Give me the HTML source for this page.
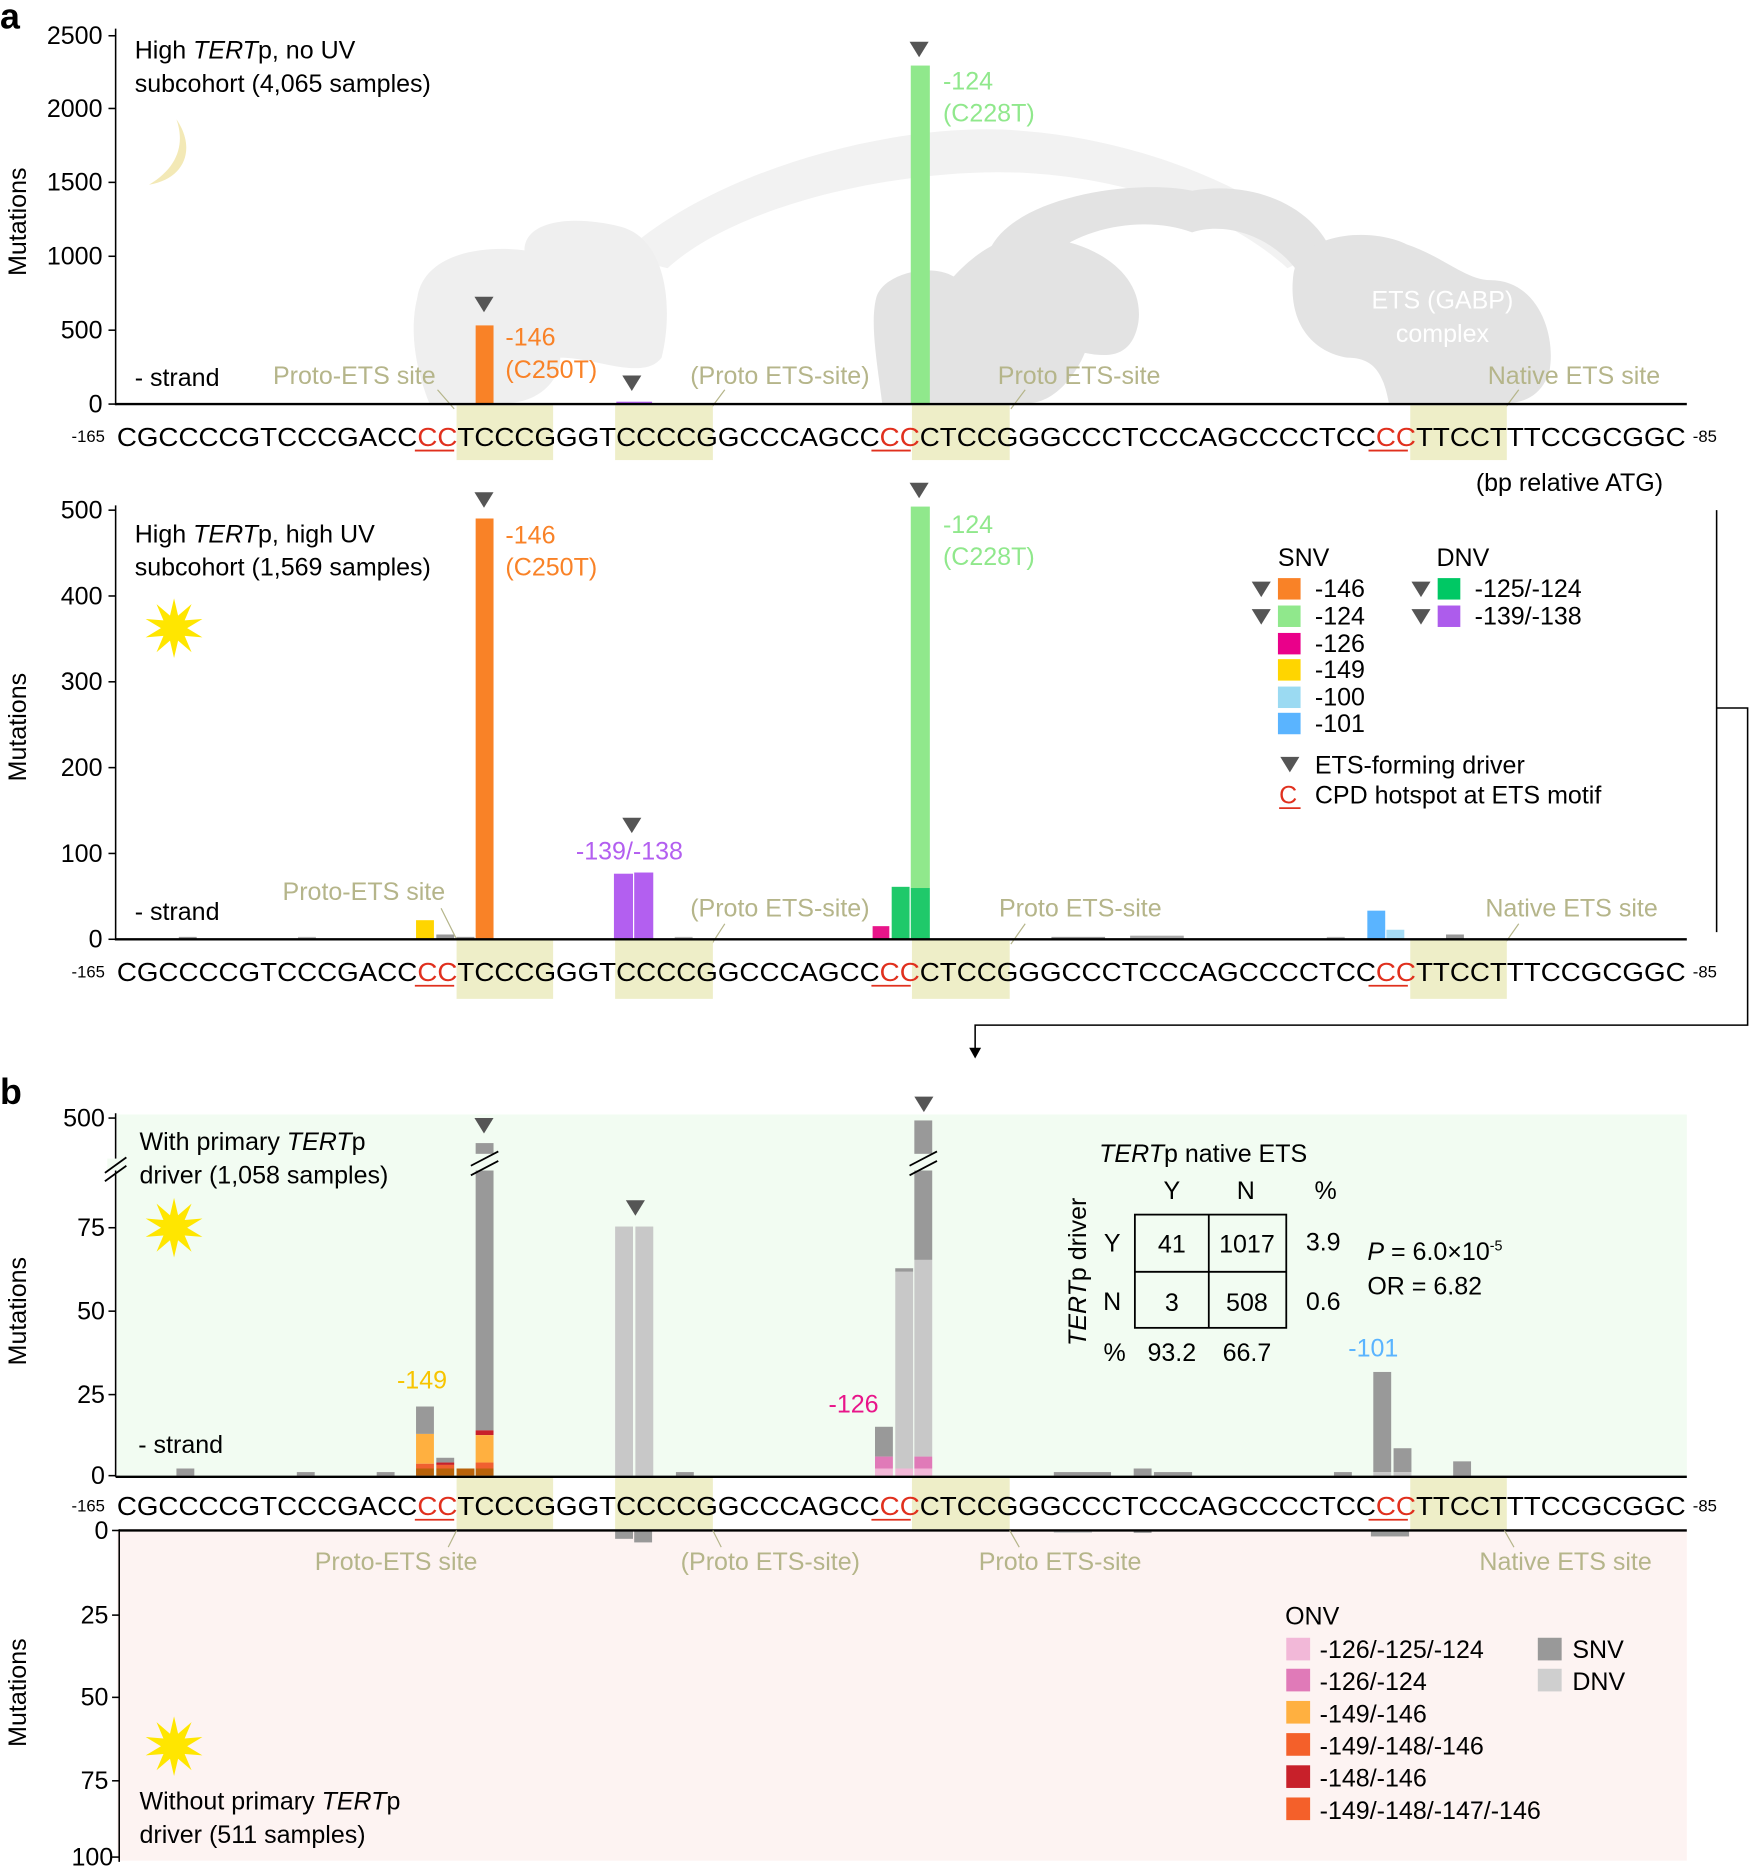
<!DOCTYPE html>
<html><head><meta charset="utf-8"><style>
html,body{margin:0;padding:0;background:#fff}
svg{display:block}
text{font-family:"Liberation Sans",Arial,sans-serif}
</style></head><body>
<svg width="1750" height="1869" viewBox="0 0 1468 1568" preserveAspectRatio="none" xmlns="http://www.w3.org/2000/svg">
<defs>
<polygon id="sun" fill="#ffe600" points="0,-25 3.4,-10.5 14.7,-20.2 8.9,-6.5 23.8,-7.7 11,0 23.8,7.7 8.9,6.5 14.7,20.2 3.4,10.5 0,25 -3.4,10.5 -14.7,20.2 -8.9,6.5 -23.8,7.7 -11,0 -23.8,-7.7 -8.9,-6.5 -14.7,-20.2 -3.4,-10.5"/>
<polygon id="tri" fill="#555" points="-8,-6 8,-6 0,7"/>
</defs>

<!-- ================= PANEL a top ================= -->
<text x="0" y="24" font-size="30" font-weight="bold">a</text>
<path d="M520,215 C600,140 760,100 860,110 C960,118 1060,160 1110,210 L1080,225 C1030,180 950,150 860,145 C760,140 620,170 560,225 Z" fill="#f2f2f2"/>
<path d="M350,250 C355,215 400,205 440,210 C440,185 480,180 520,190 C560,200 565,260 555,300 C540,320 500,300 470,300 C470,320 450,340 420,338 L360,338 C345,300 345,270 350,250 Z" fill="#efefef"/>
<path d="M830,210 C850,165 950,150 1000,160 C1060,150 1110,180 1120,220 L1090,230 C1070,200 1030,185 1000,195 C960,180 900,190 870,225 Z" fill="#e3e3e3"/>
<path d="M735,250 C740,230 780,220 800,232 C820,210 850,190 880,200 C920,205 960,230 955,270 C950,300 930,300 910,296 C900,320 880,340 860,338 L740,338 C735,300 730,270 735,250 Z" fill="#e3e3e3"/>
<path d="M1085,230 C1090,195 1150,190 1180,205 C1210,215 1230,235 1250,235 C1290,235 1305,280 1300,310 C1295,330 1280,338 1265,338 L1165,338 C1160,310 1150,300 1130,300 C1100,295 1080,270 1085,230 Z" fill="#e3e3e3"/>
<text x="1210" y="259" font-size="21" fill="#fff" text-anchor="middle">ETS (GABP)</text>
<text x="1210" y="287" font-size="21" fill="#fff" text-anchor="middle">complex</text>

<path d="M148,100 C165,125 155,150 125,155 C150,140 155,120 148,100 Z" fill="#f3e9b6"/>

<g stroke="#000" stroke-width="1.3" fill="none">
<line x1="97" y1="24" x2="97" y2="340"/>
<line x1="91" y1="30" x2="97" y2="30"/><line x1="91" y1="91" x2="97" y2="91"/><line x1="91" y1="153" x2="97" y2="153"/><line x1="91" y1="215" x2="97" y2="215"/><line x1="91" y1="277" x2="97" y2="277"/><line x1="91" y1="339" x2="97" y2="339"/>
</g>
<g font-size="21" text-anchor="end">
<text x="86" y="37">2500</text><text x="86" y="98">2000</text><text x="86" y="160">1500</text><text x="86" y="222">1000</text><text x="86" y="284">500</text><text x="86" y="346">0</text>
</g>
<text transform="translate(22,186) rotate(-90)" font-size="21" text-anchor="middle">Mutations</text>
<text x="113" y="49" font-size="21">High <tspan font-style="italic">TERT</tspan>p, no UV</text>
<text x="113" y="77" font-size="21">subcohort (4,065 samples)</text>
<text x="113" y="324" font-size="21">- strand</text>

<rect x="399" y="273" width="15" height="66" fill="#f98227"/>
<rect x="764" y="55" width="16" height="284" fill="#90e88c"/>
<rect x="517" y="337" width="30" height="2" fill="#b35ff0"/>
<use href="#tri" x="406" y="255"/><use href="#tri" x="530" y="321"/><use href="#tri" x="771" y="41"/>
<g font-size="21" fill="#f98227"><text x="424" y="290">-146</text><text x="424" y="317">(C250T)</text></g>
<g font-size="21" fill="#90e88c"><text x="791" y="75">-124</text><text x="791" y="102">(C228T)</text></g>

<g font-size="21" fill="#b5b58a"><text x="229" y="322">Proto-ETS site</text><text x="579" y="322">(Proto ETS-site)</text><text x="837" y="322">Proto ETS-site</text><text x="1248" y="322">Native ETS site</text></g>
<g stroke="#b5b58a" stroke-width="1"><line x1="367" y1="327" x2="381" y2="343"/><line x1="608" y1="327" x2="596" y2="343"/><line x1="860" y1="327" x2="848" y2="343"/><line x1="1274" y1="327" x2="1262" y2="343"/></g>

<g fill="#eeeec8"><rect x="383" y="340" width="81" height="46"/><rect x="516" y="340" width="82" height="46"/><rect x="765" y="340" width="82" height="46"/><rect x="1183" y="340" width="81" height="46"/></g>
<line x1="97" y1="339" x2="1415" y2="339" stroke="#000" stroke-width="2"/>
<text x="60" y="371" font-size="14">-165</text><text x="1420" y="371" font-size="14">-85</text>
<text x="98" y="374" font-size="22" textLength="1316" lengthAdjust="spacingAndGlyphs">CGCCCCGTCCCGACC<tspan fill="#e0301e">CC</tspan>TCCCGGGTCCCCGGCCCAGCC<tspan fill="#e0301e">CC</tspan>CTCCGGGCCCTCCCAGCCCCTCC<tspan fill="#e0301e">CC</tspan>TTCCTTTCCGCGGC</text>
<g stroke="#e0301e" stroke-width="1.5"><line x1="348" y1="378" x2="381" y2="378"/><line x1="731" y1="378" x2="764" y2="378"/><line x1="1148" y1="378" x2="1181" y2="378"/></g>
<text x="1238" y="412" font-size="21">(bp relative ATG)</text>

<!-- ================= PANEL a bottom ================= -->
<g stroke="#000" stroke-width="1.3" fill="none">
<line x1="97" y1="424" x2="97" y2="789"/>
<line x1="91" y1="428" x2="97" y2="428"/><line x1="91" y1="500" x2="97" y2="500"/><line x1="91" y1="572" x2="97" y2="572"/><line x1="91" y1="644" x2="97" y2="644"/><line x1="91" y1="716" x2="97" y2="716"/><line x1="91" y1="788" x2="97" y2="788"/>
</g>
<g font-size="21" text-anchor="end">
<text x="86" y="435">500</text><text x="86" y="507">400</text><text x="86" y="579">300</text><text x="86" y="651">200</text><text x="86" y="723">100</text><text x="86" y="795">0</text>
</g>
<text transform="translate(22,610) rotate(-90)" font-size="21" text-anchor="middle">Mutations</text>
<text x="113" y="455" font-size="21">High <tspan font-style="italic">TERT</tspan>p, high UV</text>
<text x="113" y="483" font-size="21">subcohort (1,569 samples)</text>
<use href="#sun" x="146" y="527"/>
<text x="113" y="772" font-size="21">- strand</text>

<g>
<rect x="150" y="786" width="15" height="2" fill="#999"/>
<rect x="250" y="786" width="15" height="2" fill="#bbb"/>
<rect x="349" y="772" width="15" height="16" fill="#ffd500"/>
<rect x="366" y="784" width="15" height="4" fill="#999"/>
<rect x="383" y="786" width="15" height="2" fill="#999"/>
<rect x="399" y="435" width="15" height="353" fill="#f98227"/>
<rect x="515" y="733" width="16" height="55" fill="#b35ff0"/>
<rect x="532" y="732" width="16" height="56" fill="#b35ff0"/>
<rect x="566" y="786" width="15" height="2" fill="#bbb"/>
<rect x="732" y="777" width="14" height="11" fill="#e8158a"/>
<rect x="748" y="744" width="15" height="44" fill="#1fc96a"/>
<rect x="764" y="425" width="16" height="320" fill="#90e88c"/>
<rect x="764" y="745" width="16" height="43" fill="#1fc96a"/>
<rect x="882" y="786" width="45" height="2" fill="#999"/>
<rect x="948" y="785" width="45" height="3" fill="#aaa"/>
<rect x="1113" y="786" width="15" height="2" fill="#bbb"/>
<rect x="1147" y="764" width="15" height="24" fill="#5ab4ff"/>
<rect x="1163" y="780" width="15" height="8" fill="#a6dcf5"/>
<rect x="1213" y="784" width="15" height="4" fill="#999"/>
</g>
<use href="#tri" x="406" y="419"/><use href="#tri" x="530" y="692"/><use href="#tri" x="771" y="411"/>
<g font-size="21" fill="#f98227"><text x="424" y="456">-146</text><text x="424" y="483">(C250T)</text></g>
<g font-size="21" fill="#90e88c"><text x="791" y="447">-124</text><text x="791" y="474">(C228T)</text></g>
<text x="528" y="721" font-size="21" fill="#b35ff0" text-anchor="middle">-139/-138</text>

<g font-size="21" fill="#b5b58a"><text x="237" y="755">Proto-ETS site</text><text x="579" y="769">(Proto ETS-site)</text><text x="838" y="769">Proto ETS-site</text><text x="1246" y="769">Native ETS site</text></g>
<g stroke="#b5b58a" stroke-width="1"><line x1="370" y1="762" x2="384" y2="790"/><line x1="608" y1="775" x2="597" y2="792"/><line x1="860" y1="775" x2="848" y2="792"/><line x1="1274" y1="775" x2="1262" y2="792"/></g>

<g fill="#eeeec8"><rect x="383" y="789" width="81" height="49"/><rect x="516" y="789" width="82" height="49"/><rect x="765" y="789" width="82" height="49"/><rect x="1183" y="789" width="81" height="49"/></g>
<line x1="97" y1="788" x2="1415" y2="788" stroke="#000" stroke-width="2"/>
<text x="60" y="820" font-size="14">-165</text><text x="1420" y="820" font-size="14">-85</text>
<text x="98" y="823" font-size="22" textLength="1316" lengthAdjust="spacingAndGlyphs">CGCCCCGTCCCGACC<tspan fill="#e0301e">CC</tspan>TCCCGGGTCCCCGGCCCAGCC<tspan fill="#e0301e">CC</tspan>CTCCGGGCCCTCCCAGCCCCTCC<tspan fill="#e0301e">CC</tspan>TTCCTTTCCGCGGC</text>
<g stroke="#e0301e" stroke-width="1.5"><line x1="348" y1="827" x2="381" y2="827"/><line x1="731" y1="827" x2="764" y2="827"/><line x1="1148" y1="827" x2="1181" y2="827"/></g>

<g font-size="21">
<text x="1072" y="475">SNV</text><text x="1205" y="475">DNV</text>
<rect x="1072" y="485" width="19" height="18" fill="#f98227"/><text x="1103" y="501">-146</text>
<rect x="1072" y="508" width="19" height="18" fill="#90e88c"/><text x="1103" y="524">-124</text>
<rect x="1072" y="531" width="19" height="18" fill="#ea008a"/><text x="1103" y="547">-126</text>
<rect x="1072" y="553" width="19" height="18" fill="#ffd500"/><text x="1103" y="569">-149</text>
<rect x="1072" y="576" width="19" height="18" fill="#9bdaf2"/><text x="1103" y="592">-100</text>
<rect x="1072" y="598" width="19" height="18" fill="#5ab4ff"/><text x="1103" y="614">-101</text>
<rect x="1206" y="485" width="19" height="18" fill="#00c864"/><text x="1237" y="501">-125/-124</text>
<rect x="1206" y="508" width="19" height="18" fill="#ad5cec"/><text x="1237" y="524">-139/-138</text>
<text x="1103" y="649">ETS-forming driver</text>
<text x="1073" y="674" fill="#e0301e">C</text>
<text x="1103" y="674">CPD hotspot at ETS motif</text>
</g>
<line x1="1073" y1="678" x2="1091" y2="678" stroke="#e0301e" stroke-width="1.5"/>
<use href="#tri" x="1058" y="494"/><use href="#tri" x="1058" y="517"/><use href="#tri" x="1192" y="494"/><use href="#tri" x="1192" y="517"/><use href="#tri" x="1082" y="641"/>

<g stroke="#000" stroke-width="1.3" fill="none">
<line x1="1440" y1="428" x2="1440" y2="782"/>
<polyline points="1440,594 1466,594 1466,860 818,860 818,882"/>
</g>
<polygon points="813,879 823,879 818,888" fill="#000"/>

<!-- ================= PANEL b ================= -->
<text x="0" y="926" font-size="30" font-weight="bold">b</text>
<rect x="98" y="935" width="1317" height="305" fill="#f2fcf2"/>
<rect x="98" y="1283" width="1317" height="278" fill="#fdf3f2"/>
<g fill="#eeeec8"><rect x="383" y="1240" width="81" height="43"/><rect x="516" y="1240" width="82" height="43"/><rect x="765" y="1240" width="82" height="43"/><rect x="1183" y="1240" width="81" height="43"/></g>

<g stroke="#000" stroke-width="1.3" fill="none">
<line x1="97" y1="934" x2="97" y2="1239"/>
<line x1="91" y1="938" x2="97" y2="938"/><line x1="91" y1="1030" x2="97" y2="1030"/><line x1="91" y1="1100" x2="97" y2="1100"/><line x1="91" y1="1170" x2="97" y2="1170"/><line x1="91" y1="1238" x2="97" y2="1238"/>
<line x1="100" y1="1283" x2="100" y2="1562"/>
<line x1="94" y1="1284" x2="100" y2="1284"/><line x1="94" y1="1355" x2="100" y2="1355"/><line x1="94" y1="1424" x2="100" y2="1424"/><line x1="94" y1="1494" x2="100" y2="1494"/><line x1="94" y1="1558" x2="100" y2="1558"/>
</g>
<rect x="90" y="972" width="14" height="10" fill="#f2fcf2"/>
<g stroke="#000" stroke-width="1.5"><line x1="88" y1="984" x2="106" y2="971"/><line x1="88" y1="991" x2="106" y2="978"/></g>
<g font-size="21" text-anchor="end">
<text x="88" y="945">500</text><text x="88" y="1037">75</text><text x="88" y="1107">50</text><text x="88" y="1177">25</text><text x="88" y="1245">0</text>
<text x="91" y="1291">0</text><text x="91" y="1362">25</text><text x="91" y="1431">50</text><text x="91" y="1501">75</text><text x="95" y="1565">100</text>
</g>
<text transform="translate(22,1100) rotate(-90)" font-size="21" text-anchor="middle">Mutations</text>
<text transform="translate(22,1420) rotate(-90)" font-size="21" text-anchor="middle">Mutations</text>
<text x="117" y="965" font-size="21">With primary <tspan font-style="italic">TERT</tspan>p</text>
<text x="117" y="993" font-size="21">driver (1,058 samples)</text>
<use href="#sun" x="146" y="1030"/>
<text x="116" y="1219" font-size="21">- strand</text>

<g>
<rect x="148" y="1232" width="15" height="6" fill="#999"/>
<rect x="249" y="1235" width="15" height="3" fill="#999"/>
<rect x="316" y="1235" width="15" height="3" fill="#999"/>
<rect x="349" y="1180" width="15" height="23" fill="#999"/>
<rect x="349" y="1203" width="15" height="25" fill="#ffb040"/>
<rect x="349" y="1228" width="15" height="4" fill="#f06030"/>
<rect x="349" y="1232" width="15" height="6" fill="#b8620a"/>
<rect x="366" y="1223" width="15" height="4" fill="#999"/>
<rect x="366" y="1227" width="15" height="2" fill="#c8202a"/>
<rect x="366" y="1229" width="15" height="3" fill="#f06030"/>
<rect x="366" y="1232" width="15" height="6" fill="#b8620a"/>
<rect x="383" y="1232" width="15" height="6" fill="#b8620a"/>
<rect x="399" y="959" width="15" height="241" fill="#999"/>
<rect x="399" y="1200" width="15" height="4" fill="#c8202a"/>
<rect x="399" y="1204" width="15" height="23" fill="#ffb040"/>
<rect x="399" y="1227" width="15" height="5" fill="#f06030"/>
<rect x="399" y="1232" width="15" height="6" fill="#b8620a"/>
<rect x="516" y="1029" width="15" height="209" fill="#c8c8c8"/>
<rect x="533" y="1029" width="15" height="209" fill="#c8c8c8"/>
<rect x="567" y="1235" width="15" height="3" fill="#999"/>
<rect x="734" y="1197" width="15" height="25" fill="#999"/>
<rect x="734" y="1222" width="15" height="10" fill="#e07ab8"/>
<rect x="734" y="1232" width="15" height="6" fill="#f2b8d8"/>
<rect x="751" y="1064" width="15" height="3" fill="#999"/>
<rect x="751" y="1067" width="15" height="165" fill="#c8c8c8"/>
<rect x="751" y="1232" width="15" height="6" fill="#f2b8d8"/>
<rect x="767" y="940" width="15" height="117" fill="#999"/>
<rect x="767" y="1057" width="15" height="165" fill="#c8c8c8"/>
<rect x="767" y="1222" width="15" height="10" fill="#e07ab8"/>
<rect x="767" y="1232" width="15" height="6" fill="#f2b8d8"/>
<rect x="884" y="1235" width="48" height="3" fill="#999"/>
<rect x="951" y="1232" width="15" height="6" fill="#999"/>
<rect x="968" y="1235" width="32" height="3" fill="#999"/>
<rect x="1119" y="1235" width="15" height="3" fill="#999"/>
<rect x="1152" y="1151" width="15" height="84" fill="#999"/>
<rect x="1152" y="1235" width="15" height="3" fill="#c8c8c8"/>
<rect x="1169" y="1215" width="15" height="20" fill="#999"/>
<rect x="1169" y="1235" width="15" height="3" fill="#c8c8c8"/>
<rect x="1219" y="1226" width="15" height="12" fill="#999"/>
</g>
<rect x="396" y="968" width="22" height="14" fill="#f2fcf2"/>
<rect x="764" y="968" width="22" height="14" fill="#f2fcf2"/>
<g stroke="#000" stroke-width="1.5"><line x1="395" y1="978" x2="418" y2="966"/><line x1="395" y1="986" x2="418" y2="974"/><line x1="763" y1="978" x2="786" y2="966"/><line x1="763" y1="986" x2="786" y2="974"/></g>
<use href="#tri" x="406" y="944"/><use href="#tri" x="533" y="1013"/><use href="#tri" x="775" y="926"/>
<text x="354" y="1165" font-size="21" fill="#f7c400" text-anchor="middle">-149</text>
<text x="716" y="1185" font-size="21" fill="#e8158a" text-anchor="middle">-126</text>
<text x="1152" y="1138" font-size="21" fill="#5ab4ff" text-anchor="middle">-101</text>

<g fill="#999">
<rect x="516" y="1284" width="15" height="7"/><rect x="532" y="1284" width="15" height="10"/>
<rect x="884" y="1284" width="32" height="2" fill="#ccc"/><rect x="951" y="1284" width="15" height="2"/>
<rect x="1150" y="1284" width="32" height="5"/>
</g>

<line x1="97" y1="1239" x2="1415" y2="1239" stroke="#000" stroke-width="2"/>
<line x1="100" y1="1284" x2="1415" y2="1284" stroke="#000" stroke-width="2"/>
<text x="60" y="1268" font-size="14">-165</text><text x="1420" y="1268" font-size="14">-85</text>
<text x="98" y="1271" font-size="22" textLength="1316" lengthAdjust="spacingAndGlyphs">CGCCCCGTCCCGACC<tspan fill="#e0301e">CC</tspan>TCCCGGGTCCCCGGCCCAGCC<tspan fill="#e0301e">CC</tspan>CTCCGGGCCCTCCCAGCCCCTCC<tspan fill="#e0301e">CC</tspan>TTCCTTTCCGCGGC</text>
<g stroke="#e0301e" stroke-width="1.5"><line x1="348" y1="1275" x2="381" y2="1275"/><line x1="731" y1="1275" x2="764" y2="1275"/><line x1="1148" y1="1275" x2="1181" y2="1275"/></g>

<g font-size="21" fill="#b5b58a"><text x="264" y="1317">Proto-ETS site</text><text x="571" y="1317">(Proto ETS-site)</text><text x="821" y="1317">Proto ETS-site</text><text x="1241" y="1317">Native ETS site</text></g>
<g stroke="#b5b58a" stroke-width="1"><line x1="383" y1="1284" x2="376" y2="1298"/><line x1="598" y1="1284" x2="605" y2="1298"/><line x1="847" y1="1284" x2="855" y2="1298"/><line x1="1262" y1="1284" x2="1270" y2="1298"/></g>

<g font-size="21">
<text x="922" y="975"><tspan font-style="italic">TERT</tspan>p native ETS</text>
<text x="983" y="1006" text-anchor="middle">Y</text><text x="1045" y="1006" text-anchor="middle">N</text><text x="1112" y="1006" text-anchor="middle">%</text>
<text x="933" y="1050" text-anchor="middle">Y</text><text x="933" y="1099" text-anchor="middle">N</text>
<text x="983" y="1051" text-anchor="middle">41</text><text x="1046" y="1051" text-anchor="middle">1017</text>
<text x="983" y="1100" text-anchor="middle">3</text><text x="1046" y="1100" text-anchor="middle">508</text>
<text x="1110" y="1049" text-anchor="middle">3.9</text><text x="1110" y="1099" text-anchor="middle">0.6</text>
<text x="935" y="1142" text-anchor="middle">%</text><text x="983" y="1142" text-anchor="middle">93.2</text><text x="1046" y="1142" text-anchor="middle">66.7</text>
<text transform="translate(911,1067) rotate(-90)" text-anchor="middle"><tspan font-style="italic">TERT</tspan>p driver</text>
<text x="1147" y="1057"><tspan font-style="italic">P</tspan> = 6.0×10<tspan font-size="12" dy="-8">-5</tspan></text>
<text x="1147" y="1086">OR = 6.82</text>
</g>
<g stroke="#000" stroke-width="1.5" fill="none"><rect x="952" y="1019" width="127" height="95"/><line x1="1014" y1="1019" x2="1014" y2="1114"/><line x1="952" y1="1067" x2="1079" y2="1067"/></g>

<g font-size="21">
<text x="1078" y="1363">ONV</text>
<rect x="1079" y="1374" width="20" height="19" fill="#f2b8d8"/><text x="1107" y="1391">-126/-125/-124</text>
<rect x="1079" y="1400" width="20" height="19" fill="#e07ab8"/><text x="1107" y="1418">-126/-124</text>
<rect x="1079" y="1427" width="20" height="19" fill="#ffb040"/><text x="1107" y="1445">-149/-146</text>
<rect x="1079" y="1454" width="20" height="19" fill="#f4602a"/><text x="1107" y="1472">-149/-148/-146</text>
<rect x="1079" y="1481" width="20" height="19" fill="#c8202a"/><text x="1107" y="1499">-148/-146</text>
<rect x="1079" y="1508" width="20" height="19" fill="#f4602a"/><text x="1107" y="1526">-149/-148/-147/-146</text>
<rect x="1290" y="1374" width="20" height="19" fill="#999"/><text x="1319" y="1391">SNV</text>
<rect x="1290" y="1400" width="20" height="19" fill="#cfcfcf"/><text x="1319" y="1418">DNV</text>
</g>

<use href="#sun" x="146" y="1465"/>
<text x="117" y="1518" font-size="21">Without primary <tspan font-style="italic">TERT</tspan>p</text>
<text x="117" y="1546" font-size="21">driver (511 samples)</text>
</svg>
</body></html>
